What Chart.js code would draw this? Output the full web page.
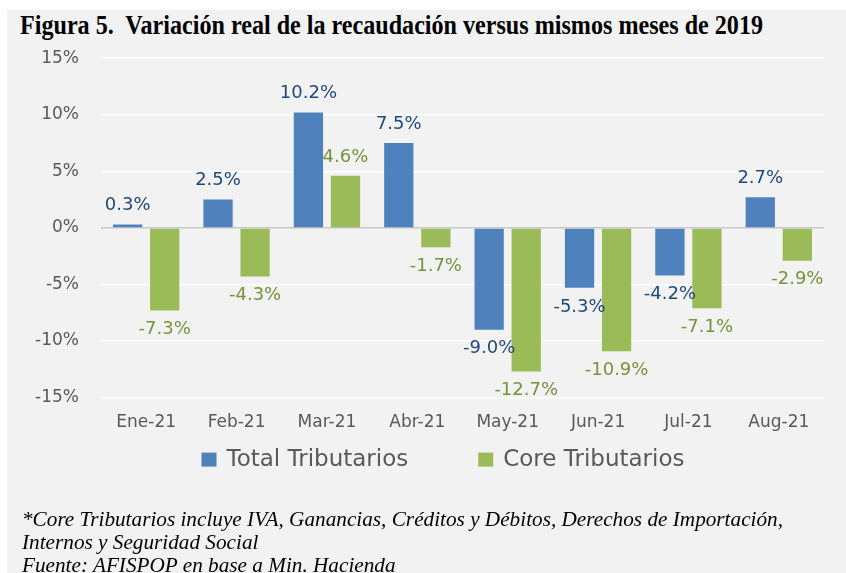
<!DOCTYPE html>
<html>
<head>
<meta charset="utf-8">
<script src="https://cdn.jsdelivr.net/npm/chart.js@4.4.0/dist/chart.umd.min.js"></script>
<style>
  html, body { margin: 0; padding: 0; background: #ffffff; }
  body { width: 846px; height: 573px; position: relative; overflow: hidden; }
  #panel { position: absolute; left: 7px; top: 10px; width: 839px; height: 563px; background: #f2f2f2; }
  #title { position: absolute; left: 20px; top: 8px; font-family: "Liberation Serif", serif; font-weight: bold;
           font-size: 28px; color: #000; white-space: nowrap; transform-origin: 0 0; line-height: 34px; }
  #chartBox { position: absolute; left: 7px; top: 26px; width: 839px; height: 482px; }
  .foot { position: absolute; left: 22px; font-family: "Liberation Serif", serif; font-style: italic;
          font-size: 22px; color: #000; white-space: nowrap; transform-origin: 0 0; line-height: 24px; }
</style>
</head>
<body>
<div id="panel"></div>
<div id="title">Figura 5.&nbsp; Variación real de la recaudación versus mismos meses de 2019</div>
<div id="chartBox"><canvas id="chart"></canvas></div>
<div class="foot" id="f1" style="top:507px">*Core Tributarios incluye IVA, Ganancias, Créditos y Débitos, Derechos de Importación,</div>
<div class="foot" id="f2" style="top:530px">Internos y Seguridad Social</div>
<div class="foot" id="f3" style="top:553px">Fuente: AFISPOP en base a Min. Hacienda</div>
<script>
// data
const months = ['Ene-21', 'Feb-21', 'Mar-21', 'Abr-21', 'May-21', 'Jun-21', 'Jul-21', 'Aug-21'];
const totalTributarios = [0.3, 2.5, 10.2, 7.5, -9.0, -5.3, -4.2, 2.7];
const coreTributarios = [-7.3, -4.3, 4.6, -1.7, -12.7, -10.9, -7.1, -2.9];
const yTicks = [-15, -10, -5, 0, 5, 10, 15];

// squeeze the serif texts to the widths seen in the picture
function fitWidth(id, target) {
  const el = document.getElementById(id);
  const w = el.getBoundingClientRect().width;
  el.style.transform = 'scaleX(' + (target / w) + ')';
  return target / w;
}
fitWidth('title', 743);
const s = fitWidth('f1', 761);
document.getElementById('f2').style.transform = 'scaleX(' + s + ')';
document.getElementById('f3').style.transform = 'scaleX(' + s + ')';

// value labels above / below each bar
const valueLabels = {
  id: 'valueLabels',
  afterDatasetsDraw(chart) {
    const ctx = chart.ctx;
    ctx.save();
    ctx.font = '18px "DejaVu Sans"';
    ctx.textAlign = 'center';
    ctx.textBaseline = 'middle';
    chart.data.datasets.forEach((ds, i) => {
      const meta = chart.getDatasetMeta(i);
      ctx.fillStyle = ds.labelColor;
      meta.data.forEach((bar, j) => {
        const v = ds.data[j];
        const y = v >= 0 ? bar.y - 19 : bar.y + 19;
        ctx.fillText(v.toFixed(1) + '%', bar.x, y);
      });
    });
    ctx.restore();
  }
};

// legend drawn by hand so the item gap can be wide without eating height
const bottomLegend = {
  id: 'bottomLegend',
  afterDraw(chart) {
    const ctx = chart.ctx;
    const area = chart.chartArea;
    ctx.save();
    ctx.font = '23px "DejaVu Sans"';
    ctx.textBaseline = 'middle';
    const gap = 70;
    const items = chart.data.datasets.map(ds => ({ text: ds.label, color: ds.backgroundColor, w: ctx.measureText(ds.label).width }));
    const total = items.reduce((a, it) => a + 15 + 10 + it.w, 0) + gap * (items.length - 1);
    let x = 436 - total / 2;
    const y = area.bottom + 62;
    items.forEach(it => {
      ctx.fillStyle = it.color;
      ctx.fillRect(x, y - 7, 15, 14);
      ctx.fillStyle = '#595959';
      ctx.fillText(it.text, x + 25, y);
      x += 25 + it.w + gap;
    });
    ctx.restore();
  }
};

const ctx = document.getElementById('chart').getContext('2d');
const chart = new Chart(ctx, {
  type: 'bar',
  data: {
    labels: months,
    datasets: [
      {
        label: 'Total Tributarios',
        data: totalTributarios,
        backgroundColor: '#4f81bd',
        labelColor: '#1f497d',
        categoryPercentage: 0.82,
        barPercentage: 0.79
      },
      {
        label: 'Core Tributarios',
        data: coreTributarios,
        backgroundColor: '#9bbb59',
        labelColor: '#77933c',
        categoryPercentage: 0.82,
        barPercentage: 0.79
      }
    ]
  },
  options: {
    responsive: true,
    maintainAspectRatio: false,
    animation: false,
    layout: { padding: { top: 8, right: 22, left: 0, bottom: 60 } },
    plugins: {
      legend: { display: false },
      tooltip: { enabled: false }
    },
    scales: {
      y: {
        min: -15,
        max: 15,
        afterBuildTicks: axis => { axis.ticks = yTicks.map(v => ({ value: v })); },
        afterFit: axis => { axis.width = 94; },
        ticks: {
          color: '#595959',
          font: { family: 'DejaVu Sans', size: 17 },
          padding: 22,
          callback: v => v + '%'
        },
        grid: {
          drawTicks: false,
          color: ctx => ctx.tick && ctx.tick.value === 0 ? '#c8c8c8' : '#ffffff',
          lineWidth: 1.5
        },
        border: { display: false }
      },
      x: {
        ticks: {
          color: '#595959',
          font: { family: 'DejaVu Sans', size: 17 },
          padding: 15
        },
        grid: { display: false, drawTicks: false },
        border: { display: false }
      }
    }
  },
  plugins: [valueLabels, bottomLegend]
});
</script>
</body>
</html>
